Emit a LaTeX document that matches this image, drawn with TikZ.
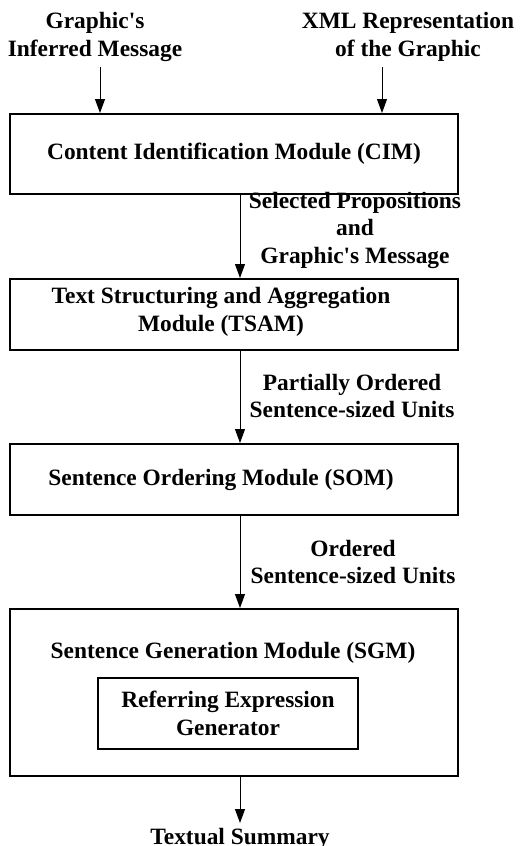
\documentclass[tikz,border=0pt]{standalone}
\usepackage{fontspec}
\setmainfont{Liberation Serif}
\usepackage{tikz}
\usetikzlibrary{positioning,arrows.meta}

\begin{document}
\begin{tikzpicture}[x=1pt, y=-1pt,
  font=\fontsize{23.4}{27.5}\selectfont\bfseries,
  module/.style={draw, line width=2pt, minimum width=448pt, inner sep=0pt, align=center},
  lbl/.style={inner sep=0pt, align=center},
  arr/.style={line width=1pt, -{Triangle[length=14pt, width=10pt]}}]
  \useasboundingbox (0,0) rectangle (522,846);

  % Inputs
  \node[lbl] (inMsg) at (95, 37) {Graphic\textquotesingle s\\Inferred Message};
  \node[lbl] (inXml) at (408, 37) {XML Representation\\of the Graphic};
  \coordinate (inMsgEnd) at (100, 67);
  \coordinate (inXmlEnd) at (382, 67);

  % Modules
  \node[module, minimum height=80pt] (cim) at (234, 154) {Content Identification Module (CIM)};
  \node[module, minimum height=71pt] (tsam) at (234, 314.5) {};
  \node[lbl] (tsamText) at (221, 312) {Text Structuring and Aggregation\\Module (TSAM)};
  \node[module, minimum height=71pt] (som) at (234, 479.5) {};
  \node[lbl] (somText) at (221, 480) {Sentence Ordering Module (SOM)};
  \node[module, minimum height=167pt] (sgm) at (234, 692.5) {};
  \node[lbl] (sgmText) at (233, 653) {Sentence Generation Module (SGM)};
  \node[module, minimum width=260pt, minimum height=71pt] (reg) at (228, 713.5) {Referring Expression\\Generator};

  % Labels between modules
  \node[lbl] (propLbl) at (355, 230) {Selected Propositions\\and\\Graphic\textquotesingle s Message};
  \node[lbl] (partLbl) at (352, 396) {Partially Ordered\\Sentence-sized Units};
  \node[lbl] (ordLbl) at (353, 562) {Ordered\\Sentence-sized Units};

  % Output
  \node[lbl, anchor=base] (summary) at (240, 844) {Textual Summary};
  \coordinate (spine) at (240, 0);
  \coordinate (sumEnd) at (240, 823);

  % Arrows
  \draw[arr] (inMsgEnd) -- (inMsgEnd |- cim.north);
  \draw[arr] (inXmlEnd) -- (inXmlEnd |- cim.north);
  \draw[arr] (cim.south -| spine) -- (tsam.north -| spine);
  \draw[arr] (tsam.south -| spine) -- (som.north -| spine);
  \draw[arr] (som.south -| spine) -- (sgm.north -| spine);
  \draw[arr] (sgm.south -| spine) -- (sumEnd);
\end{tikzpicture}
\end{document}
